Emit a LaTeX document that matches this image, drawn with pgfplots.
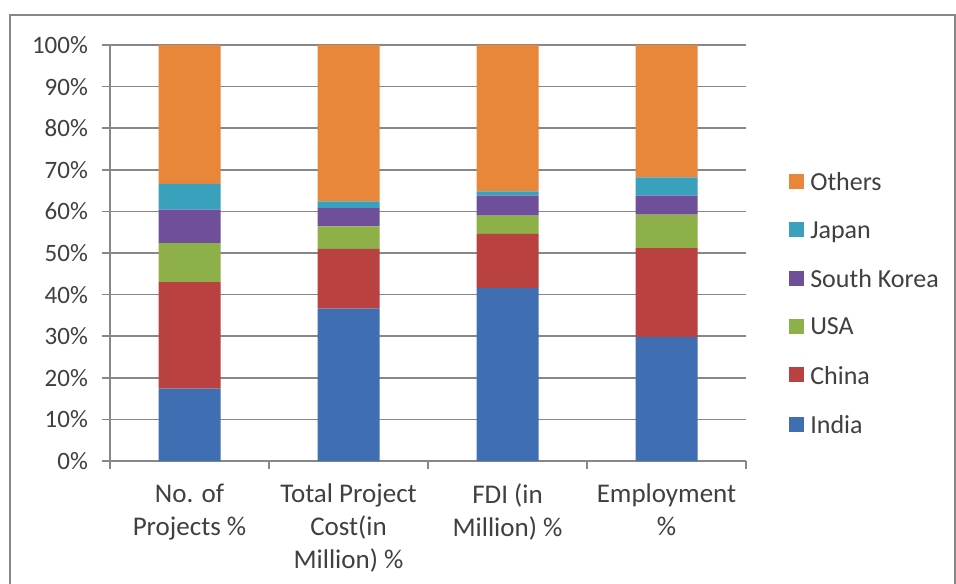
\documentclass[border=0pt]{standalone}
\usepackage{pgfplots}
\pgfplotsset{compat=1.18}
\usepackage{fontspec}
\setmainfont{Carlito}
\definecolor{cIndia}{HTML}{3F6EB2}
\definecolor{cChina}{HTML}{B9413F}
\definecolor{cUSA}{HTML}{8DB048}
\definecolor{cSK}{HTML}{704F9A}
\definecolor{cJapan}{HTML}{3AA1BD}
\definecolor{cOthers}{HTML}{E8863A}
\definecolor{gridgray}{HTML}{878787}
\definecolor{textgray}{HTML}{404040}
\begin{document}
\begin{tikzpicture}
\useasboundingbox (-55pt,-61pt) rectangle (423pt,230.5pt);
\fill[white] (-55pt,-61pt) rectangle (423pt,230.5pt);
\draw[line width=1pt, color=gridgray] (-50pt,-70pt) -- (-50pt,223pt) -- (422.5pt,223pt) -- (422.5pt,-70pt);
\begin{axis}[
  at={(0,0)}, anchor=south west,
  width=318pt, height=208pt, scale only axis,
  ybar stacked, bar width=31pt,
  xmin=-0.5, xmax=3.5, ymin=0, ymax=100,
  axis x line*=bottom, axis y line*=left,
  axis line style={draw=gridgray, line width=0.8pt},
  xtick={-0.5,0.5,1.5,2.5,3.5}, xticklabels={},
  extra x ticks={0,1,2,3},
  extra x tick labels={{No. of\\Projects \%},{Total Project\\Cost(in\\Million) \%},{FDI (in\\Million) \%},{Employment\\\%}},
  extra x tick style={tick style={draw=none}, grid=none},
  xticklabel style={align=center, font=\fontsize{13.5}{16.5}\selectfont, text=textgray, yshift=-4pt},
  ytick={0,10,...,100},
  yticklabel={\pgfmathprintnumber{\tick}\%},
  yticklabel style={font=\fontsize{12.5}{15}\selectfont, text=textgray, xshift=-3.5pt},
  /pgf/number format/assume math mode=true,
  tick align=outside, major tick length=4pt,
  tick style={draw=gridgray, line width=0.8pt},
  ymajorgrids, grid style={draw=gridgray, line width=0.8pt},
  legend style={at={(1.058,0.377)}, anchor=west, draw=none, fill=none,
    font=\fontsize{13}{15}\selectfont, text=textgray,
    row sep=12pt, nodes={inner sep=1pt}},
  legend cell align=left,
  reverse legend,
  legend image code/.code={\fill[#1] (0pt,-3pt) rectangle (7.5pt,4.5pt); \path (9.5pt,0pt);},
]
\addplot+[fill=cIndia, draw=none] coordinates {(0,17.4) (1,36.6) (2,41.6) (3,29.8)};
\addlegendentry{India}
\addplot+[fill=cChina, draw=none] coordinates {(0,25.6) (1,14.4) (2,13.0) (3,21.4)};
\addlegendentry{China}
\addplot+[fill=cUSA, draw=none] coordinates {(0,9.4) (1,5.4) (2,4.4) (3,8.0)};
\addlegendentry{USA}
\addplot+[fill=cSK, draw=none] coordinates {(0,8.0) (1,4.4) (2,4.8) (3,4.6)};
\addlegendentry{South Korea}
\addplot+[fill=cJapan, draw=none] coordinates {(0,6.2) (1,1.6) (2,1.0) (3,4.4)};
\addlegendentry{Japan}
\addplot+[fill=cOthers, draw=none] coordinates {(0,33.4) (1,37.6) (2,35.2) (3,31.8)};
\addlegendentry{Others}
\end{axis}
\end{tikzpicture}
\end{document}
